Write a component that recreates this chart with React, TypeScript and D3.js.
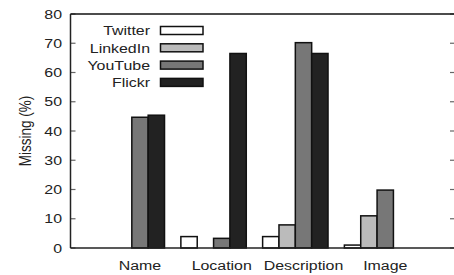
import React from "react";
import * as d3 from "d3";

const categories = ["Name", "Location", "Description", "Image"];
const seriesNames = ["Twitter", "LinkedIn", "YouTube", "Flickr"];
const twitter = [0, 3.9, 3.9, 1.0];
const linkedin = [0, 0, 7.9, 11.0];
const youtube = [44.7, 3.3, 70.2, 19.8];
const flickr = [45.4, 66.5, 66.5, 0];
const yTicks = [0, 10, 20, 30, 40, 50, 60, 70, 80];
const colors = ["#ffffff", "#bbbbbb", "#777777", "#222222"];

const W = 454;
const H = 275;
const left = 70.5;
const right = 454.5;
const top = 14;
const bottom = 248;
const FS = 13.5;
const SX = 1.18;
const FONT = "'Liberation Sans', Arial, sans-serif";

export default function App() {
  const series = [twitter, linkedin, youtube, flickr];
  const x = d3.scaleLinear().domain([-0.75, 3.947]).range([left, right]);
  const y = d3.scaleLinear().domain([0, 80]).range([bottom, top]);

  const HText = ({ tx, ty, anchor, children }: any) => (
    <text
      transform={`translate(${tx},${ty}) scale(${SX},1)`}
      textAnchor={anchor}
      fontSize={FS}
      fontFamily={FONT}
      fill="#222"
    >
      {children}
    </text>
  );

  return (
    <svg
      width={W}
      height={H}
      style={{ position: "absolute", left: 0, top: 0, background: "#fff" }}
    >
      {/* ticks */}
      {yTicks.map((t) => (
        <g key={t}>
          <line x1={left} x2={left + 5} y1={y(t)} y2={y(t)} stroke="#666" strokeWidth={1.2} />
          <line x1={W - 4} x2={W} y1={y(t)} y2={y(t)} stroke="#666" strokeWidth={1.2} />
          <HText tx={62} ty={y(t) + 4.7} anchor="end">{t}</HText>
        </g>
      ))}
      {/* bars */}
      {categories.map((c, i) =>
        series.map((s, j) => {
          const x0 = x(i - 0.4 + 0.2 * j);
          const x1 = x(i - 0.2 + 0.2 * j);
          const v = s[i];
          return (
            <rect
              key={c + j}
              x={x0}
              y={y(v)}
              width={x1 - x0}
              height={Math.max(0, y(0) - y(v))}
              fill={colors[j]}
              stroke="#111"
              strokeWidth={1.5}
            />
          );
        })
      )}
      {/* axes frame */}
      <line x1={left} x2={W} y1={top} y2={top} stroke="#111" strokeWidth={1.5} />
      <line x1={left} x2={W} y1={bottom} y2={bottom} stroke="#222" strokeWidth={1.5} />
      <line x1={left} x2={left} y1={top} y2={bottom} stroke="#222" strokeWidth={1.5} />
      {/* x labels */}
      {categories.map((c, i) => (
        <HText key={c} tx={x(i + 0.1)} ty={270} anchor="middle">{c}</HText>
      ))}
      {/* y label */}
      <text
        transform={`translate(31,${(top + bottom) / 2}) rotate(-90) scale(1,${SX})`}
        textAnchor="middle"
        fontSize={FS}
        fontFamily={FONT}
        fill="#222"
      >
        Missing (%)
      </text>
      {/* legend */}
      {seriesNames.map((n, j) => {
        const cy = 30.5 + j * 17.3;
        return (
          <g key={n}>
            <HText tx={150} ty={cy + 4.8} anchor="end">{n}</HText>
            <rect x={160.5} y={cy - 4} width={42.5} height={8} fill={colors[j]} stroke="#111" strokeWidth={1.5} />
          </g>
        );
      })}
    </svg>
  );
}
